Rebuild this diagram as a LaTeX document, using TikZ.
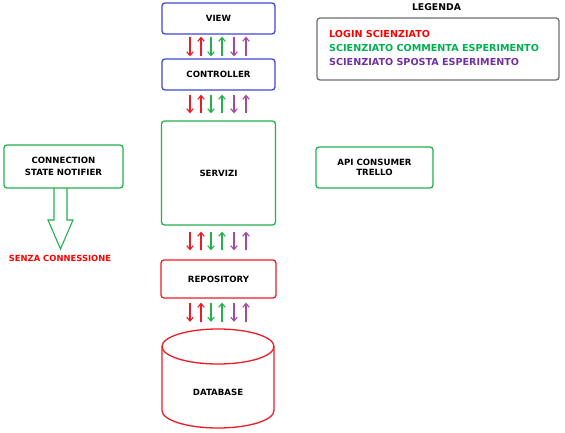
\documentclass[tikz,border=0pt]{standalone}
\usepackage{fontspec}
\setmainfont{DejaVu Sans}
\usetikzlibrary{arrows.meta}
\definecolor{cred}{RGB}{237,28,36}
\definecolor{cgreen}{RGB}{34,177,76}
\definecolor{cpurple}{RGB}{163,73,164}
\definecolor{cblue}{RGB}{63,72,204}
\definecolor{lred}{RGB}{255,0,0}
\definecolor{lgreen}{RGB}{0,176,80}
\definecolor{lpurple}{RGB}{112,48,160}
\definecolor{lgray}{RGB}{110,110,110}
\newcommand\arrrow[4]{%
 \foreach \dx/\col in {-28.5/cred,-7.5/cgreen,15.5/cpurple}
   \draw[flow,\col,shorten <=#3,shorten >=#4] ([xshift=\dx pt]#1.south) -- ([xshift=\dx pt]#2.north);
 \foreach \dx/\col in {-17.5/cred,3.5/cgreen,27.5/cpurple}
   \draw[flow,\col,shorten <=#4,shorten >=#3] ([xshift=\dx pt]#2.north) -- ([xshift=\dx pt]#1.south);
}
\tikzset{
  box/.style={line width=1.3pt, rounded corners=3pt, inner sep=0pt,
     font=\fontsize{8.6}{12.5}\selectfont\bfseries, align=center, text=black},
  flow/.style={line width=1.1pt, -{Straight Barb[length=3.8pt,width=6.5pt,line width=1.1pt]}},
  lbl/.style={font=\fontsize{9.6}{14}\selectfont\bfseries, anchor=west, inner sep=0pt}
}
\begin{document}
\begin{tikzpicture}[x=1pt,y=1pt]
\useasboundingbox (0,0) rectangle (565,432);
% main column
\node[box, draw=cblue, minimum width=113pt, minimum height=31pt] (view) at (218.5,413.5) {VIEW};
\node[box, draw=cblue, minimum width=113pt, minimum height=31pt] (ctrl) at (218.5,357.5) {CONTROLLER};
\node[box, draw=cgreen, minimum width=114pt, minimum height=104pt] (serv) at (218.5,259) {SERVIZI};
\node[box, draw=cred, minimum width=115pt, minimum height=38pt] (repo) at (218.5,153) {REPOSITORY};
% database cylinder
\draw[cred, line width=1.3pt] (218,85.5) ellipse [x radius=56pt, y radius=17.5pt];
\draw[cred, line width=1.3pt] (162,85.5) -- (162,21.5) arc[start angle=180, end angle=360, x radius=56pt, y radius=17.5pt] -- (274,85.5);
\node[inner sep=0pt, minimum size=0pt] (dbtop) at (218.5,103) {};
\node[font=\fontsize{8.6}{10}\selectfont\bfseries] (db) at (218,40) {DATABASE};
% arrows
\arrrow{view}{ctrl}{2pt}{2pt}
\arrrow{ctrl}{serv}{4pt}{7pt}
\arrrow{serv}{repo}{6pt}{9pt}
\arrrow{repo}{dbtop}{4pt}{7pt}
% side boxes
\node[box, draw=cgreen, minimum width=119pt, minimum height=43pt] (notif) at (63.5,265.5) {CONNECTION\\STATE NOTIFIER};
\node[box, draw=cgreen, minimum width=117pt, minimum height=41pt, font=\fontsize{8.6}{10}\selectfont\bfseries] (api) at (374.5,264.5) {API CONSUMER\\TRELLO};
% block arrow
\coordinate (ba) at (60.5,244);
\draw[cgreen, line width=1.1pt, line join=miter] ([xshift=-6.5pt]ba) -- ++(0,-32) -- ++(-6,0) -- (60.5,183) -- (73,212) -- ++(-6,0) -- ([xshift=6.5pt]ba);
\node[font=\fontsize{8.4}{10}\selectfont\bfseries, text=lred] (senza) at (60,174) {SENZA CONNESSIONE};
% legend
\node[font=\fontsize{9.3}{10}\selectfont\bfseries] (legt) at (436.5,425) {LEGENDA};
\node[draw=lgray, line width=1.3pt, rounded corners=3pt, minimum width=242pt, minimum height=62pt] (leg) at (438,383) {};
\node[lbl, text=lred] (l1) at (329,398) {LOGIN SCIENZIATO};
\node[lbl, text=lgreen] (l2) at (329,384) {SCIENZIATO COMMENTA ESPERIMENTO};
\node[lbl, text=lpurple] (l3) at (329,370) {SCIENZIATO SPOSTA ESPERIMENTO};
\end{tikzpicture}
\end{document}
